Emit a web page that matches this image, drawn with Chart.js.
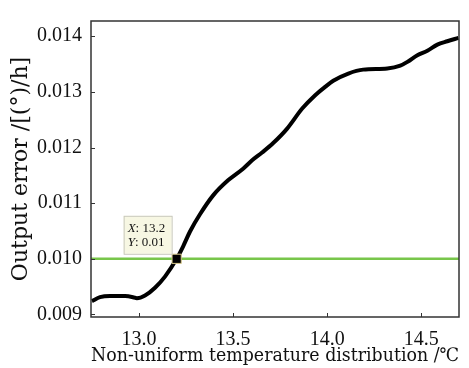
<!DOCTYPE html>
<html>
<head>
<meta charset="utf-8">
<script src="https://cdn.jsdelivr.net/npm/chart.js@4.4.1/dist/chart.umd.min.js"></script>
<style>
  html, body { margin: 0; padding: 0; background: #fff; }
  #wrap { width: 469px; height: 368px; }
</style>
</head>
<body>
<div id="wrap"><canvas id="errChart"></canvas></div>
<script>
// temperature (x) and output error (y)
const tempX = [12.75, 12.793, 12.846, 12.926, 12.968, 12.989, 13.032, 13.085, 13.138, 13.2,
  13.234, 13.271, 13.324, 13.394, 13.473, 13.553, 13.601, 13.654, 13.713, 13.787,
  13.867, 13.936, 13.989, 14.032, 14.112, 14.191, 14.319, 14.388, 14.426, 14.479,
  14.532, 14.585, 14.638, 14.697];
const errorY = [0.00924, 0.00931, 0.00933, 0.00933, 0.00931, 0.00929, 0.00934, 0.00948, 0.00968, 0.0100,
  0.01022, 0.01049, 0.0108, 0.01114, 0.01141, 0.01162, 0.01177, 0.01191, 0.01208, 0.01234,
  0.0127, 0.01294, 0.01309, 0.0132, 0.01333, 0.0134, 0.01342, 0.01347, 0.01354, 0.01366,
  0.01374, 0.01385, 0.01391, 0.01397];
const xTicks = [13.0, 13.5, 14.0, 14.5];
const yTicks = [0.009, 0.010, 0.011, 0.012, 0.013, 0.014];
const xRange = [12.745, 14.70];
const yRange = [0.008954, 0.014274];
const refLevel = 0.010;
const markX = 13.2, markY = 0.01;

const serif = '"Liberation Serif", "DejaVu Serif", serif';
const wideSerif = '"DejaVu Serif", "Liberation Serif", serif';

const curvePoints = tempX.map((x, i) => ({ x: x, y: errorY[i] }));

// frame, inward tick marks and the data-tip box
const framePlugin = {
  id: 'frame',
  afterDraw(chart) {
    const { ctx, chartArea: a, scales } = chart;
    ctx.save();
    ctx.strokeStyle = '#333';
    ctx.lineWidth = 1.5;
    ctx.strokeRect(a.left, a.top, a.right - a.left, a.bottom - a.top);
    ctx.lineWidth = 1;
    xTicks.forEach(v => {
      const px = Math.round(scales.x.getPixelForValue(v)) + 0.5;
      ctx.beginPath(); ctx.moveTo(px, a.bottom); ctx.lineTo(px, a.bottom - 4); ctx.stroke();
    });
    yTicks.forEach(v => {
      const py = Math.round(scales.y.getPixelForValue(v)) + 0.5;
      ctx.beginPath(); ctx.moveTo(a.left, py); ctx.lineTo(a.left + 4, py); ctx.stroke();
    });

    // data tip
    const mx = scales.x.getPixelForValue(markX);
    const my = scales.y.getPixelForValue(markY);
    const bw = 48, bh = 38;
    const bx = mx - 5 - bw, by = my - 5 - bh;
    ctx.fillStyle = '#f7f7e3';
    ctx.fillRect(bx, by, bw, bh);
    ctx.strokeStyle = '#c9c9bd';
    ctx.strokeRect(bx + 0.5, by + 0.5, bw, bh);
    ctx.fillStyle = '#111';
    ctx.textBaseline = 'middle';
    const lines = [['X', ': ' + markX.toFixed(1)], ['Y', ': ' + markY]];
    lines.forEach((ln, i) => {
      const ty = by + 13 + i * 14;
      ctx.font = 'italic 13px ' + serif;
      ctx.fillText(ln[0], bx + 4, ty);
      const w = ctx.measureText(ln[0]).width;
      ctx.font = '13px ' + serif;
      ctx.fillText(ln[1], bx + 4 + w, ty);
    });
    ctx.restore();
  }
};

new Chart(document.getElementById('errChart'), {
  type: 'scatter',
  data: {
    datasets: [
      {
        label: 'mark',
        data: [{ x: markX, y: markY }],
        pointStyle: 'rect',
        pointRadius: 6.5,
        backgroundColor: '#000',
        borderColor: '#d8c98a',
        borderWidth: 1,
        order: 0
      },
      {
        label: 'ref',
        data: [{ x: xRange[0], y: refLevel }, { x: xRange[1], y: refLevel }],
        showLine: true,
        borderColor: '#78c64a',
        borderWidth: 2.5,
        pointRadius: 0,
        order: 2
      },
      {
        label: 'error',
        data: curvePoints,
        showLine: true,
        borderColor: '#000',
        borderWidth: 4,
        pointRadius: 0,
        cubicInterpolationMode: 'monotone',
        order: 1
      }
    ]
  },
  options: {
    responsive: true,
    maintainAspectRatio: false,
    animation: false,
    layout: { padding: { top: 7, right: 10, left: 0, bottom: 0 } },
    plugins: {
      legend: { display: false },
      tooltip: { enabled: false }
    },
    scales: {
      x: {
        type: 'linear',
        min: xRange[0],
        max: xRange[1],
        afterBuildTicks: s => { s.ticks = xTicks.map(v => ({ value: v })); },
        afterFit: s => { s.height = 51; },
        grid: { drawOnChartArea: false, drawTicks: false },
        border: { display: false },
        ticks: {
          color: '#111',
          padding: 11,
          font: { family: serif, size: 20 },
          callback: v => v.toFixed(1)
        },
        title: {
          display: true,
          text: 'Non-uniform temperature distribution /℃',
          color: '#111',
          font: { family: wideSerif, size: 18.5 },
          padding: { top: 0, bottom: 1 }
        }
      },
      y: {
        type: 'linear',
        min: yRange[0],
        max: yRange[1],
        afterBuildTicks: s => { s.ticks = yTicks.map(v => ({ value: v })); },
        afterFit: s => { s.width = 91; },
        grid: { drawOnChartArea: false, drawTicks: false },
        border: { display: false },
        ticks: {
          color: '#111',
          padding: 9,
          font: { family: serif, size: 20 },
          callback: v => v.toFixed(3)
        },
        title: {
          display: true,
          text: 'Output error /[(°)/h]',
          color: '#111',
          font: { family: wideSerif, size: 22 },
          padding: { top: 8, bottom: 0 }
        }
      }
    }
  },
  plugins: [framePlugin]
});
</script>
</body>
</html>
